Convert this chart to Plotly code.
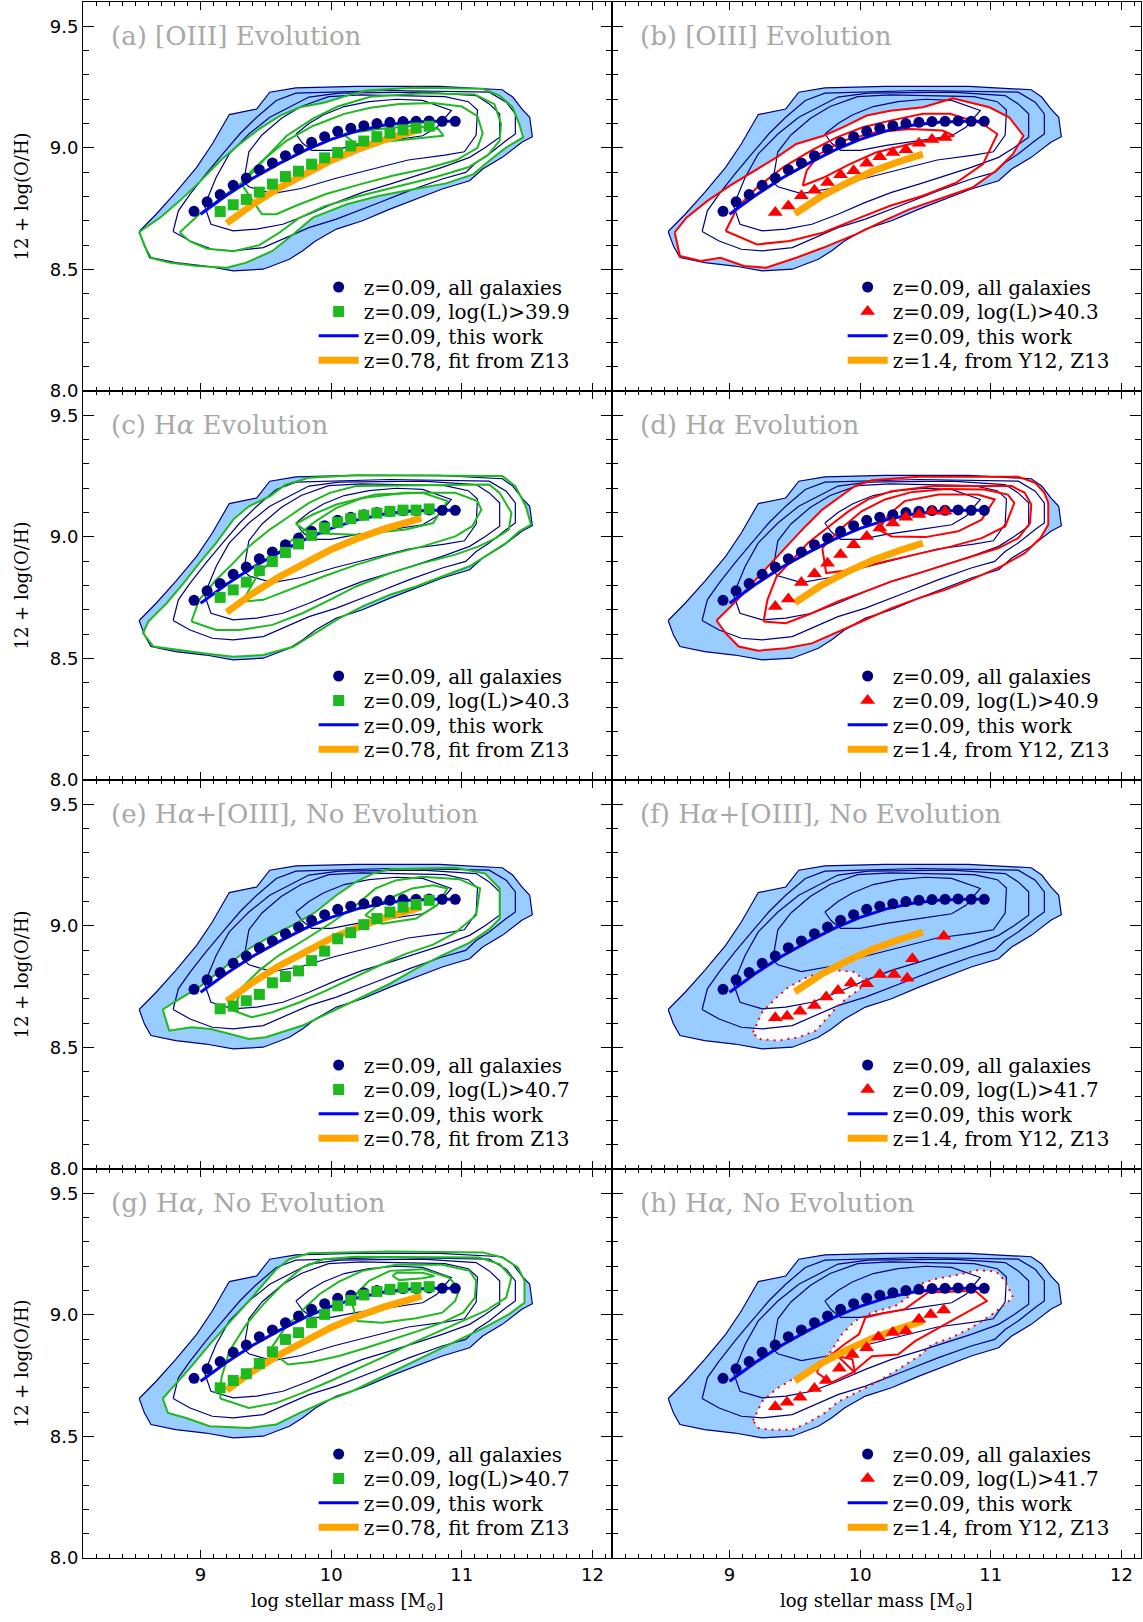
import plotly.graph_objects as go
from plotly.subplots import make_subplots

####################################################
# z=0.09, all galaxies: median 12+log(O/H) in stellar mass bins
all_mass = [8.95, 9.05, 9.15, 9.25, 9.35, 9.45, 9.55, 9.65, 9.75, 9.85, 9.95,
            10.05, 10.15, 10.25, 10.35, 10.45, 10.55, 10.65, 10.75, 10.85, 10.95]
all_oh = [8.739, 8.778, 8.808, 8.846, 8.876, 8.910, 8.938, 8.968, 8.995, 9.023, 9.046,
          9.068, 9.081, 9.091, 9.100, 9.105, 9.108, 9.109, 9.111, 9.109, 9.109]

# z=0.09, this work (fit)
fit_mass = [9.0, 9.2, 9.4, 9.6, 9.8, 10.0, 10.2, 10.4, 10.6, 10.8, 10.95]
fit_oh = [8.727, 8.805, 8.875, 8.935, 8.990, 9.035, 9.070, 9.093, 9.105, 9.110, 9.110]

# z=0.78, fit from Z13
z13_mass = [9.20, 9.40, 9.60, 9.80, 10.00, 10.20, 10.40, 10.60, 10.69]
z13_oh = [8.690, 8.768, 8.835, 8.895, 8.948, 8.993, 9.032, 9.063, 9.078]

# z=1.4, from Y12, Z13
y12_mass = [9.50, 9.70, 9.90, 10.10, 10.30, 10.48]
y12_oh = [8.729, 8.800, 8.856, 8.905, 8.944, 8.974]

# luminosity-limited subsamples
sq_mass = [9.15, 9.25, 9.35, 9.45, 9.55, 9.65, 9.75, 9.85, 9.95, 10.05,
           10.15, 10.25, 10.35, 10.45, 10.55, 10.65, 10.75]
oh_a = [8.738, 8.766, 8.788, 8.818, 8.851, 8.882, 8.904, 8.933, 8.959, 8.981,
        9.008, 9.028, 9.046, 9.061, 9.074, 9.082, 9.089]
oh_c = [8.751, 8.782, 8.814, 8.861, 8.899, 8.936, 8.971, 9.006, 9.037, 9.060,
        9.075, 9.089, 9.098, 9.105, 9.110, 9.110, 9.115]
oh_e = [8.659, 8.670, 8.692, 8.718, 8.766, 8.792, 8.815, 8.857, 8.896, 8.947,
        8.972, 9.005, 9.030, 9.057, 9.077, 9.088, 9.105]
oh_g = [8.700, 8.730, 8.758, 8.800, 8.848, 8.899, 8.927, 8.968, 9.002, 9.037,
        9.060, 9.082, 9.096, 9.105, 9.112, 9.112, 9.116]

tri_mass = [9.35, 9.45, 9.55, 9.65, 9.75, 9.85, 9.95, 10.05, 10.15, 10.25,
            10.35, 10.45, 10.55, 10.65]
oh_b = [8.734, 8.761, 8.803, 8.826, 8.858, 8.889, 8.906, 8.937, 8.964, 8.981,
        8.992, 9.019, 9.034, 9.043]
oh_d = [8.714, 8.744, 8.812, 8.848, 8.892, 8.927, 8.968, 9.002, 9.037, 9.057,
        9.081, 9.092, 9.105, 9.105]
mass_f = [9.35, 9.44, 9.54, 9.65, 9.74, 9.83, 9.93, 10.05, 10.15, 10.26, 10.36, 10.40, 10.64]
oh_f = [8.622, 8.628, 8.649, 8.672, 8.707, 8.734, 8.765, 8.762, 8.800, 8.800, 8.785, 8.865, 8.957]
mass_h = [9.35, 9.44, 9.54, 9.65, 9.74, 9.84, 9.94, 10.05, 10.14, 10.25, 10.35, 10.45, 10.54, 10.64]
oh_h = [8.622, 8.641, 8.661, 8.697, 8.730, 8.780, 8.837, 8.865, 8.909, 8.927, 8.934, 8.982, 9.002, 9.020]

####################################################
# density contours of all z=0.09 galaxies (outermost one is filled)
sdss_c1 = [(8.53, 8.656), (8.66, 8.727), (8.81, 8.817), (8.97, 8.920), (9.09, 9.016), (9.22, 9.137),
           (9.43, 9.160), (9.53, 9.229), (9.73, 9.247), (10.19, 9.253), (10.83, 9.253), (11.31, 9.239),
           (11.39, 9.209), (11.46, 9.160), (11.52, 9.126), (11.54, 9.046), (11.46, 9.023), (11.31, 8.961),
           (11.16, 8.913), (11.06, 8.865), (10.85, 8.831), (10.65, 8.789), (10.45, 8.748), (10.24, 8.700),
           (10.04, 8.666), (9.88, 8.617), (9.78, 8.576), (9.68, 8.542), (9.48, 8.501), (9.25, 8.494),
           (9.04, 8.514), (8.81, 8.528), (8.62, 8.549), (8.57, 8.597)]
sdss_c2 = [(8.79, 8.656), (8.83, 8.741), (8.92, 8.810), (9.04, 8.892), (9.17, 8.975), (9.30, 9.057),
           (9.43, 9.126), (9.58, 9.195), (9.73, 9.225), (10.45, 9.236), (11.21, 9.229), (11.34, 9.188),
           (11.41, 9.140), (11.41, 9.057), (11.34, 9.030), (11.21, 8.975), (11.11, 8.940), (11.03, 8.899),
           (10.85, 8.872), (10.60, 8.824), (10.34, 8.769), (10.04, 8.707), (9.83, 8.672), (9.68, 8.638),
           (9.48, 8.590), (9.25, 8.576), (9.09, 8.583), (8.92, 8.617)]
sdss_c3 = [(9.03, 8.762), (9.08, 8.686), (9.25, 8.659), (9.43, 8.666), (9.63, 8.686), (9.83, 8.727),
           (10.04, 8.776), (10.24, 8.817), (10.45, 8.851), (10.65, 8.886), (10.85, 8.920), (11.06, 8.961),
           (11.18, 9.002), (11.29, 9.044), (11.29, 9.140), (11.21, 9.181), (11.11, 9.215), (10.70, 9.229),
           (10.06, 9.225), (9.83, 9.209), (9.68, 9.167), (9.53, 9.126), (9.37, 9.057), (9.22, 8.975),
           (9.12, 8.879)]
sdss_c4 = [(9.33, 8.860), (9.37, 8.840), (9.55, 8.812), (9.77, 8.833), (10.03, 8.874), (10.28, 8.909),
           (10.59, 8.950), (10.87, 8.970), (11.02, 8.984), (11.11, 9.053), (11.12, 9.156), (11.05, 9.190),
           (10.87, 9.211), (10.23, 9.218), (9.98, 9.211), (9.77, 9.170), (9.62, 9.122), (9.47, 9.053),
           (9.37, 8.984)]
sdss_c5 = [(9.73, 9.057), (9.83, 9.100), (9.94, 9.135), (10.10, 9.170), (10.29, 9.190), (10.50, 9.200),
           (10.70, 9.195), (10.92, 9.154), (10.81, 9.085), (10.70, 9.050), (10.45, 9.030), (10.20, 9.010),
           (10.00, 8.990), (9.85, 8.990), (9.78, 9.020)]

# subsample contours per panel (first one of each list is blanked white)
cont_a = [
    [(8.53, 8.654), (8.69, 8.713), (8.84, 8.782), (8.99, 8.858), (9.15, 8.947), (9.30, 9.016), (9.45, 9.078),
     (9.61, 9.133), (9.76, 9.167), (9.96, 9.188), (10.12, 9.215), (10.27, 9.236), (10.63, 9.247),
     (11.16, 9.243), (11.29, 9.215), (11.39, 9.167), (11.44, 9.098), (11.47, 9.043), (11.34, 9.002),
     (11.21, 8.947), (11.09, 8.892), (10.88, 8.854), (10.63, 8.830), (10.37, 8.803), (10.12, 8.768),
     (9.86, 8.713), (9.71, 8.645), (9.55, 8.576), (9.35, 8.528), (9.20, 8.507), (8.97, 8.514),
     (8.76, 8.528), (8.61, 8.548)],
    [(8.84, 8.652), (8.99, 8.727), (9.17, 8.800), (9.35, 8.870), (9.50, 8.960), (9.66, 9.050), (9.86, 9.120),
     (10.05, 9.170), (10.30, 9.210), (10.70, 9.225), (11.10, 9.220), (11.25, 9.180), (11.30, 9.100),
     (11.29, 9.030), (11.20, 8.970), (11.05, 8.920), (10.80, 8.880), (10.50, 8.840), (10.20, 8.800),
     (9.95, 8.760), (9.75, 8.710), (9.60, 8.650), (9.45, 8.600), (9.25, 8.575), (9.05, 8.585), (8.92, 8.615)],
    [(9.31, 8.854), (9.40, 8.780), (9.47, 8.727), (9.58, 8.727), (9.73, 8.762), (9.96, 8.810), (10.22, 8.850),
     (10.47, 8.885), (10.73, 8.915), (10.96, 8.950), (11.12, 9.000), (11.16, 9.060), (11.12, 9.130),
     (11.00, 9.170), (10.78, 9.185), (10.52, 9.180), (10.30, 9.165), (10.10, 9.140), (9.86, 9.090),
     (9.66, 9.030), (9.50, 8.960), (9.38, 8.900)],
    [(10.09, 9.057), (10.19, 9.016), (10.50, 9.030), (10.86, 9.050), (10.82, 9.078), (10.63, 9.091),
     (10.37, 9.078), (10.17, 9.064)],
]
cont_b = [
    [(8.58, 8.652), (8.62, 8.555), (8.78, 8.535), (8.93, 8.548), (9.11, 8.514), (9.28, 8.507), (9.51, 8.548),
     (9.72, 8.590), (9.97, 8.645), (10.18, 8.700), (10.38, 8.748), (10.63, 8.796), (10.86, 8.837),
     (11.04, 8.906), (11.17, 8.975), (11.25, 9.050), (11.14, 9.126), (10.99, 9.167), (10.71, 9.204),
     (10.48, 9.167), (10.23, 9.153), (10.05, 9.133), (9.87, 9.085), (9.72, 9.050), (9.51, 9.016),
     (9.36, 8.961), (9.21, 8.913), (9.00, 8.844), (8.83, 8.782), (8.67, 8.713)],
    [(8.97, 8.658), (9.21, 8.603), (9.46, 8.617), (9.72, 8.652), (9.97, 8.707), (10.23, 8.762), (10.48, 8.803),
     (10.74, 8.858), (10.94, 8.933), (11.05, 9.057), (10.94, 9.098), (10.69, 9.140), (10.48, 9.140),
     (10.23, 9.112), (10.02, 9.085), (9.82, 9.043), (9.62, 8.988), (9.41, 8.920), (9.21, 8.837), (9.06, 8.755)],
    [(9.56, 8.844), (9.72, 8.878), (9.92, 8.933), (10.12, 8.981), (10.38, 9.016), (10.58, 9.036),
     (10.72, 9.050), (10.63, 9.071), (10.38, 9.078), (10.12, 9.064), (9.87, 9.030), (9.69, 8.975),
     (9.59, 8.906)],
]
cont_c = [
    [(8.60, 8.652), (8.74, 8.727), (8.87, 8.810), (8.99, 8.892), (9.12, 8.975), (9.25, 9.071), (9.37, 9.126),
     (9.53, 9.167), (9.65, 9.215), (9.83, 9.243), (10.19, 9.253), (11.31, 9.250), (11.41, 9.209),
     (11.49, 9.126), (11.53, 9.050), (11.44, 9.023), (11.34, 8.975), (11.18, 8.920), (11.06, 8.879),
     (10.85, 8.837), (10.65, 8.796), (10.45, 8.762), (10.24, 8.714), (10.04, 8.659), (9.88, 8.604),
     (9.71, 8.548), (9.48, 8.514), (9.25, 8.507), (9.02, 8.521), (8.79, 8.538), (8.64, 8.549), (8.56, 8.604)],
    [(8.93, 8.652), (8.99, 8.741), (9.12, 8.824), (9.25, 8.892), (9.37, 8.961), (9.53, 9.030), (9.68, 9.085),
     (9.83, 9.140), (9.99, 9.181), (10.19, 9.209), (11.21, 9.215), (11.29, 9.181), (11.38, 9.099),
     (11.36, 9.030), (11.26, 8.995), (11.13, 8.961), (10.95, 8.927), (10.70, 8.892), (10.45, 8.851),
     (10.19, 8.796), (9.99, 8.741), (9.78, 8.686), (9.55, 8.638), (9.30, 8.617), (9.12, 8.617)],
    [(9.32, 8.734), (9.43, 8.837), (9.58, 8.927), (9.73, 9.002), (9.88, 9.064), (10.04, 9.119), (10.24, 9.160),
     (10.57, 9.181), (10.95, 9.181), (11.12, 9.147), (11.15, 9.112), (11.08, 9.044), (10.95, 9.002),
     (10.70, 8.961), (10.45, 8.927), (10.19, 8.885), (9.94, 8.837), (9.68, 8.782), (9.48, 8.741)],
    [(9.73, 9.054), (9.83, 9.016), (10.19, 9.009), (10.57, 9.030), (10.78, 9.057), (10.89, 9.147),
     (10.70, 9.181), (10.34, 9.174), (10.04, 9.133), (9.86, 9.092)],
]
cont_d = [
    [(8.90, 8.656), (9.06, 8.741), (9.20, 8.824), (9.32, 8.892), (9.45, 8.968), (9.58, 9.043), (9.71, 9.112),
     (9.83, 9.160), (9.96, 9.209), (10.09, 9.233), (10.45, 9.247), (11.21, 9.247), (11.34, 9.222),
     (11.41, 9.181), (11.44, 9.140), (11.44, 9.050), (11.38, 8.995), (11.26, 8.933), (11.08, 8.879),
     (10.85, 8.824), (10.65, 8.782), (10.45, 8.748), (10.24, 8.707), (10.04, 8.659), (9.83, 8.610),
     (9.63, 8.562), (9.43, 8.542), (9.22, 8.532), (9.07, 8.549), (8.97, 8.604)],
    [(9.26, 8.652), (9.29, 8.741), (9.36, 8.837), (9.48, 8.906), (9.60, 8.975), (9.76, 9.043), (9.91, 9.105),
     (10.06, 9.154), (10.24, 9.188), (10.57, 9.209), (11.16, 9.209), (11.26, 9.181), (11.31, 9.133),
     (11.30, 9.057), (11.21, 8.995), (11.06, 8.954), (10.85, 8.920), (10.65, 8.885), (10.45, 8.851),
     (10.24, 8.817), (10.04, 8.776), (9.83, 8.734), (9.63, 8.686), (9.43, 8.645)],
    [(9.71, 8.954), (9.74, 8.851), (9.94, 8.865), (10.19, 8.899), (10.45, 8.931), (10.70, 8.961),
     (10.93, 8.995), (11.11, 9.043), (11.18, 9.140), (11.13, 9.174), (10.95, 9.195), (10.65, 9.197),
     (10.39, 9.184), (10.19, 9.154), (10.01, 9.105), (9.86, 9.037)],
    [(10.14, 9.030), (10.24, 9.002), (10.50, 8.999), (10.75, 9.023), (10.93, 9.071), (11.03, 9.154),
     (10.90, 9.174), (10.60, 9.174), (10.34, 9.147), (10.22, 9.092)],
]
cont_e = [
    [(8.71, 8.656), (8.76, 8.569), (8.93, 8.583), (9.08, 8.576), (9.37, 8.535), (9.50, 8.542), (9.78, 8.590),
     (10.04, 8.656), (10.24, 8.707), (10.45, 8.762), (10.65, 8.824), (10.85, 8.879), (11.06, 8.931),
     (11.21, 8.986), (11.29, 9.030), (11.29, 9.154), (11.18, 9.215), (10.95, 9.239), (10.45, 9.233),
     (10.32, 9.215), (10.19, 9.181), (10.04, 9.126), (9.88, 9.057), (9.73, 9.009), (9.55, 8.961),
     (9.37, 8.906), (9.17, 8.824), (8.99, 8.748), (8.84, 8.700)],
    [(9.25, 8.652), (9.39, 8.624), (9.55, 8.645), (9.76, 8.686), (9.96, 8.734), (10.16, 8.785), (10.37, 8.837),
     (10.57, 8.885), (10.78, 8.923), (10.95, 8.972), (11.11, 9.044), (11.14, 9.154), (10.98, 9.192),
     (10.70, 9.202), (10.50, 9.188), (10.34, 9.154), (10.19, 9.085), (10.01, 9.016), (9.81, 8.947),
     (9.60, 8.879), (9.45, 8.817), (9.32, 8.748)],
    [(10.26, 9.044), (10.39, 9.009), (10.65, 9.030), (10.81, 9.085), (10.89, 9.154), (10.78, 9.167),
     (10.62, 9.154), (10.50, 9.126), (10.37, 9.092)],
]
cont_f = [
    [(9.18, 8.562), (9.25, 8.645), (9.35, 8.700), (9.45, 8.748), (9.58, 8.785), (9.71, 8.810), (9.83, 8.817),
     (9.96, 8.810), (10.02, 8.780), (10.00, 8.741), (9.91, 8.707), (9.82, 8.666), (9.74, 8.617),
     (9.66, 8.569), (9.53, 8.542), (9.37, 8.528), (9.22, 8.535)],
]
cont_g = [
    [(8.71, 8.656), (8.75, 8.597), (8.89, 8.576), (9.07, 8.542), (9.37, 8.535), (9.58, 8.549), (9.76, 8.597),
     (9.96, 8.645), (10.16, 8.686), (10.37, 8.741), (10.57, 8.793), (10.78, 8.848), (10.98, 8.899),
     (11.18, 8.950), (11.36, 9.002), (11.48, 9.050), (11.48, 9.140), (11.43, 9.195), (11.31, 9.236),
     (11.16, 9.257), (10.45, 9.261), (9.83, 9.253), (9.68, 9.229), (9.58, 9.188), (9.48, 9.126),
     (9.37, 9.057), (9.22, 8.968), (9.07, 8.879), (8.92, 8.782), (8.81, 8.714)],
    [(9.15, 8.656), (9.37, 8.617), (9.58, 8.638), (9.78, 8.679), (9.99, 8.727), (10.19, 8.775), (10.39, 8.824),
     (10.60, 8.879), (10.80, 8.927), (11.01, 8.975), (11.18, 9.016), (11.34, 9.071), (11.38, 9.154),
     (11.29, 9.209), (11.13, 9.236), (10.19, 9.239), (9.94, 9.229), (9.78, 9.195), (9.63, 9.126),
     (9.48, 9.043), (9.35, 8.961), (9.22, 8.851), (9.16, 8.741)],
    [(9.53, 8.854), (9.67, 8.796), (9.86, 8.807), (10.06, 8.831), (10.27, 8.865), (10.47, 8.899),
     (10.67, 8.934), (10.85, 8.968), (11.01, 9.009), (11.10, 9.071), (11.11, 9.140), (11.06, 9.181),
     (10.85, 9.206), (10.50, 9.206), (10.24, 9.181), (10.06, 9.137), (9.91, 9.085), (9.76, 9.009),
     (9.63, 8.934)],
    [(10.16, 9.046), (10.20, 8.975), (10.39, 8.968), (10.65, 8.986), (10.85, 9.009), (10.95, 9.057),
     (10.98, 9.105), (10.90, 9.154), (10.70, 9.188), (10.45, 9.181), (10.29, 9.140), (10.20, 9.092)],
    [(10.47, 9.160), (10.52, 9.143), (10.70, 9.151), (10.79, 9.160), (10.70, 9.173), (10.50, 9.174)],
]
cont_h = [
    [(9.18, 8.565), (9.25, 8.645), (9.37, 8.700), (9.50, 8.741), (9.63, 8.782), (9.76, 8.837), (9.86, 8.920),
     (9.96, 8.975), (10.09, 9.009), (10.27, 9.037), (10.38, 9.078), (10.46, 9.126), (10.57, 9.147),
     (10.75, 9.165), (10.90, 9.184), (11.04, 9.178), (11.11, 9.140), (11.17, 9.071), (11.11, 9.044),
     (11.01, 9.002), (10.85, 8.947), (10.70, 8.906), (10.55, 8.879), (10.45, 8.830), (10.29, 8.776),
     (10.14, 8.727), (9.99, 8.686), (9.83, 8.642), (9.73, 8.597), (9.60, 8.556), (9.48, 8.528),
     (9.32, 8.527), (9.22, 8.535)],
    [(9.67, 8.762), (9.78, 8.721), (9.94, 8.762), (10.09, 8.830), (10.29, 8.837), (10.42, 8.892),
     (10.65, 8.961), (10.83, 9.016), (10.97, 9.057), (10.88, 9.099), (10.52, 9.092), (10.34, 9.023),
     (10.16, 9.005), (10.04, 8.989), (9.99, 8.920), (9.88, 8.879), (9.78, 8.837), (9.68, 8.782)],
    [(9.83, 8.830), (9.96, 8.762), (9.94, 8.817)],
]

titles = ["(a) [OIII] Evolution", "(b) [OIII] Evolution",
          "(c) H<i>α</i> Evolution", "(d) H<i>α</i> Evolution",
          "(e) H<i>α</i>+[OIII], No Evolution", "(f) H<i>α</i>+[OIII], No Evolution",
          "(g) H<i>α</i>, No Evolution", "(h) H<i>α</i>, No Evolution"]
lum_cut = ["39.9", "40.3", "40.3", "40.9", "40.7", "41.7", "40.7", "41.7"]

####################################################

NAVY = "#000080"
LIGHT = "#99ccff"
GREEN = "#1eb91e"
RED = "#ff0000"
ORANGE = "#ffa500"
SERIF = "DejaVu Serif"

panels = [
    dict(mass=sq_mass, oh=oh_a, conts=cont_a, solid=cont_a, dotted=[]),
    dict(mass=tri_mass, oh=oh_b, conts=cont_b, solid=cont_b, dotted=[]),
    dict(mass=sq_mass, oh=oh_c, conts=cont_c, solid=cont_c, dotted=[]),
    dict(mass=tri_mass, oh=oh_d, conts=cont_d, solid=cont_d, dotted=[]),
    dict(mass=sq_mass, oh=oh_e, conts=cont_e, solid=cont_e, dotted=[]),
    dict(mass=mass_f, oh=oh_f, conts=cont_f, solid=[], dotted=cont_f),
    dict(mass=sq_mass, oh=oh_g, conts=cont_g, solid=cont_g, dotted=[]),
    dict(mass=mass_h, oh=oh_h, conts=cont_h, solid=cont_h[1:], dotted=cont_h[:1]),
]
sdss = [sdss_c1, sdss_c2, sdss_c3, sdss_c4, sdss_c5]


def closed(pts):
    xs = [p[0] for p in pts]
    ys = [p[1] for p in pts]
    return xs + xs[:1], ys + ys[:1]


def leg_name(n):
    return "legend" if n == 1 else "legend%d" % n


fig = make_subplots(rows=4, cols=2, horizontal_spacing=0, vertical_spacing=0)

for i, p in enumerate(panels):
    row, col = i // 2 + 1, i % 2 + 1
    left = col == 1
    colr = GREEN if left else RED
    sk = dict(row=row, col=col)

    x, y = closed(sdss_c1)
    fig.add_trace(go.Scatter(x=x, y=y, mode="lines", fill="toself", fillcolor=LIGHT,
                             line=dict(width=0), showlegend=False, hoverinfo="skip"), **sk)
    x, y = closed(p["conts"][0])
    fig.add_trace(go.Scatter(x=x, y=y, mode="lines", fill="toself", fillcolor="white",
                             line=dict(width=0), showlegend=False, hoverinfo="skip"), **sk)
    for c in sdss:
        x, y = closed(c)
        fig.add_trace(go.Scatter(x=x, y=y, mode="lines", line=dict(color=NAVY, width=1.2),
                                 showlegend=False, hoverinfo="skip"), **sk)
    for c in p["solid"]:
        x, y = closed(c)
        fig.add_trace(go.Scatter(x=x, y=y, mode="lines", line=dict(color=colr, width=2),
                                 showlegend=False, hoverinfo="skip"), **sk)
    for c in p["dotted"]:
        x, y = closed(c)
        fig.add_trace(go.Scatter(x=x, y=y, mode="lines",
                                 line=dict(color=RED, width=2, dash="2px,5px"),
                                 showlegend=False, hoverinfo="skip"), **sk)

    # one legend box per entry so the row spacing can follow the original
    n0 = i * 4
    if left:
        fig.add_trace(go.Scatter(x=z13_mass, y=z13_oh, mode="lines", line=dict(color=ORANGE, width=7),
                                 name="z=0.78, fit from Z13", legend=leg_name(n0 + 4)), **sk)
    else:
        fig.add_trace(go.Scatter(x=y12_mass, y=y12_oh, mode="lines", line=dict(color=ORANGE, width=7),
                                 name="z=1.4, from Y12, Z13", legend=leg_name(n0 + 4)), **sk)
    fig.add_trace(go.Scatter(x=fit_mass, y=fit_oh, mode="lines", line=dict(color="#0000ff", width=3),
                             name="z=0.09, this work", legend=leg_name(n0 + 3)), **sk)
    fig.add_trace(go.Scatter(x=all_mass, y=all_oh, mode="markers",
                             marker=dict(color=NAVY, size=11, symbol="circle"),
                             name="z=0.09, all galaxies", legend=leg_name(n0 + 1)), **sk)
    fig.add_trace(go.Scatter(x=p["mass"], y=p["oh"], mode="markers",
                             marker=dict(color=colr, size=11 if left else 13,
                                         symbol="square" if left else "triangle-up"),
                             name="z=0.09, log(L)>" + lum_cut[i], legend=leg_name(n0 + 2)), **sk)

    # panel label
    fig.add_annotation(text=titles[i], xref="x domain", yref="y domain", x=0.05, y=0.913,
                       xanchor="left", yanchor="middle", showarrow=False,
                       font=dict(family=SERIF, size=26, color="#a8a8a8"), **sk)

    for k in range(4):
        ypix = 287 + 24.4 * k + (row - 1) * 389
        fig.update_layout(**{leg_name(n0 + k + 1): dict(
            x=0.218 if left else 0.718, y=1 - (ypix - 2) / 1556,
            xanchor="left", yanchor="middle", bgcolor="rgba(0,0,0,0)",
            itemwidth=40, font=dict(family=SERIF, size=20, color="black"))})

fig.update_xaxes(range=[8.1, 12.15], tickmode="linear", tick0=0, dtick=1,
                 ticks="inside", ticklen=8, tickwidth=1.2, tickcolor="black",
                 minor=dict(ticks="inside", ticklen=4, tickwidth=1, tickcolor="black",
                            tickmode="linear", tick0=0, dtick=0.1),
                 showline=True, linecolor="black", linewidth=1, mirror="ticks",
                 showgrid=False, zeroline=False, showticklabels=False,
                 tickfont=dict(family="DejaVu Sans", size=18, color="black"))
fig.update_xaxes(showticklabels=True, row=4)
fig.update_yaxes(range=[8.0, 9.6], tickmode="linear", tick0=0, dtick=0.5, tickformat=".1f",
                 ticks="inside", ticklen=11, tickwidth=1.2, tickcolor="black",
                 minor=dict(ticks="inside", ticklen=6, tickwidth=1, tickcolor="black",
                            tickmode="linear", tick0=0, dtick=0.1),
                 showline=True, linecolor="black", linewidth=1, mirror="ticks",
                 showgrid=False, zeroline=False, showticklabels=False,
                 tickfont=dict(family="DejaVu Sans", size=18, color="black"))
fig.update_yaxes(showticklabels=True, col=1)

for r in range(4):
    fig.add_annotation(text="12 + log(O/H)", xref="paper", yref="paper", x=-0.0586,
                       y=0.875 - 0.25 * r, textangle=-90, showarrow=False,
                       xanchor="center", yanchor="middle",
                       font=dict(family=SERIF, size=18, color="black"))
for cx in [0.25, 0.75]:
    fig.add_annotation(text="log stellar mass [M<sub>⊙</sub>]", xref="paper", yref="paper",
                       x=cx, y=-0.0285, showarrow=False, xanchor="center", yanchor="middle",
                       font=dict(family=SERIF, size=18, color="black"))

fig.update_layout(width=1143, height=1622, plot_bgcolor="white", paper_bgcolor="white",
                  margin=dict(l=83, r=2, t=2, b=64))

fig.write_html("out.html", config={"displayModeBar": False},
               post_script="document.body.style.margin='0px';")
